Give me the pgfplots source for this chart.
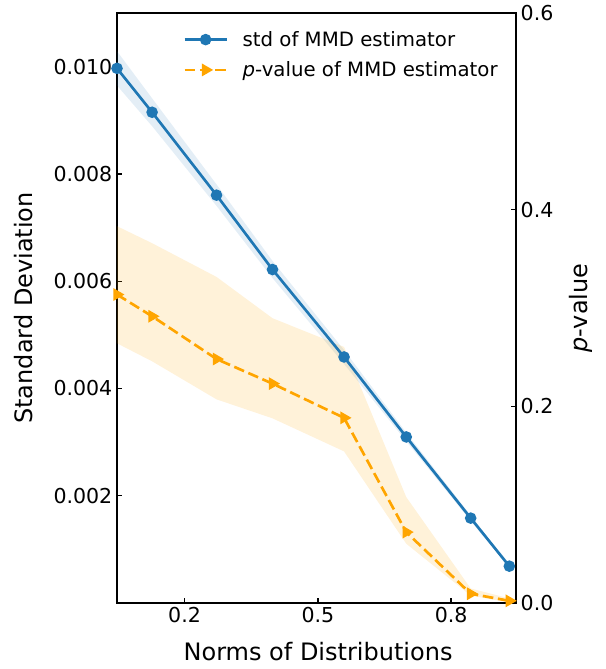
\documentclass[border=0pt]{standalone}
\usepackage{fontspec}
\setmainfont{DejaVu Sans}
\usepackage{pgfplots}
\usepackage{pgfplotstable}
\pgfplotsset{compat=1.18}
\usepgfplotslibrary{fillbetween}
\usetikzlibrary{calc}
\definecolor{mblue}{HTML}{1F77B4}
\definecolor{morange}{HTML}{FFA500}

% x: norm, s: std of MMD (su/sl band), p: p-value (pu/pl band)
\pgfplotstableread{
x     s         su        sl        p       pu      pl
0.048 0.009971  0.010291  0.009651  0.3137  0.3832  0.2641
0.127 0.009152  0.009412  0.008892  0.2916  0.3659  0.2458
0.272 0.007606  0.007806  0.007406  0.2481  0.3316  0.2071
0.398 0.006219  0.006379  0.006059  0.2231  0.2896  0.1878
0.559 0.004588  0.004718  0.004458  0.1883  0.2604  0.1542
0.699 0.003097  0.003177  0.003017  0.0721  0.1077  0.0603
0.844 0.001583  0.001633  0.001533  0.0094  0.0148  0.0076
0.931 0.000687  0.000717  0.000657  0.0022  0.0046  0.0005
}\data

\pgfplotsset{
  base/.style={
    scale only axis, width=299.25pt, height=442.5pt,
    xmin=0.048, xmax=0.946,
    tick align=inside, major tick length=3.75pt,
    axis line style={line width=1.2pt},
    tick style={line width=1.1pt, black},
    /pgf/number format/assume math mode=true,
    tick label style={font=\fontsize{15.4}{18}\selectfont},
    label style={font=\fontsize{18}{21}\selectfont},
    legend image code/.code={%
      \draw[mark repeat=2, mark phase=2, #1] plot coordinates {(0pt,0pt) (15.75pt,0pt) (31.5pt,0pt)};},
  },
}

\begin{document}
\begin{tikzpicture}
\begin{axis}[base, name=a1,
  ymin=0, ymax=0.011003,
  xtick={0.2,0.5,0.8}, xtick pos=left, ytick pos=left,
  ytick={0.002,0.004,0.006,0.008,0.010},
  scaled y ticks=false,
  xticklabel style={/pgf/number format/.cd, fixed, fixed zerofill, precision=1},
  yticklabel style={/pgf/number format/.cd, fixed, fixed zerofill, precision=3},
  xlabel={Norms of Distributions},
  ylabel={Standard Deviation},
  xlabel style={at={(axis description cs:0.504,-0.0822)}, anchor=center},
  ylabel style={at={(axis description cs:-0.233,0.5)}, anchor=center},
]
\addplot[name path=bu, draw=none, forget plot] table[x=x, y=su] {\data};
\addplot[name path=bl, draw=none, forget plot] table[x=x, y=sl] {\data};
\addplot[mblue, fill opacity=0.12, forget plot] fill between[of=bu and bl];
\addplot[mblue, line width=2pt, mark=*, mark size=3.3pt] table[x=x, y=s] {\data};
\end{axis}

\begin{axis}[base,
  ymin=0, ymax=0.6,
  axis x line=none, axis y line*=right,
  ytick={0,0.2,0.4,0.6},
  yticklabel style={/pgf/number format/.cd, fixed, fixed zerofill, precision=1},
  ylabel={\textit{p}-value},
  ylabel style={at={(axis description cs:1.163,0.5)}, anchor=center},
  legend style={at={(axis description cs:0.1555,0.9788)}, anchor=north west,
    draw=none, fill=none, font=\fontsize{14.8}{17}\selectfont,
    row sep=6pt, cells={anchor=west},
    /tikz/every odd column/.append style={column sep=9pt}},
  legend cell align=left,
]
\addlegendimage{mblue, line width=2pt, mark=*, mark size=3.3pt}
\addlegendentry{std of MMD estimator}
\addplot[name path=pu, draw=none, forget plot] table[x=x, y=pu] {\data};
\addplot[name path=pl, draw=none, forget plot] table[x=x, y=pl] {\data};
\addplot[morange, fill opacity=0.15, forget plot] fill between[of=pu and pl];
\addplot[morange, line width=2pt, dash pattern=on 8pt off 3.5pt,
  mark=triangle*, mark size=3.6pt, mark options={solid, rotate=-90, fill=morange}]
  table[x=x, y=p] {\data};
\addlegendentry{\textit{p}-value of MMD estimator}
\end{axis}

\path ($(a1.south west)+(-87.75pt,-49.5pt)$) rectangle ($(a1.north east)+(67.5pt,9.75pt)$);
\end{tikzpicture}
\end{document}
